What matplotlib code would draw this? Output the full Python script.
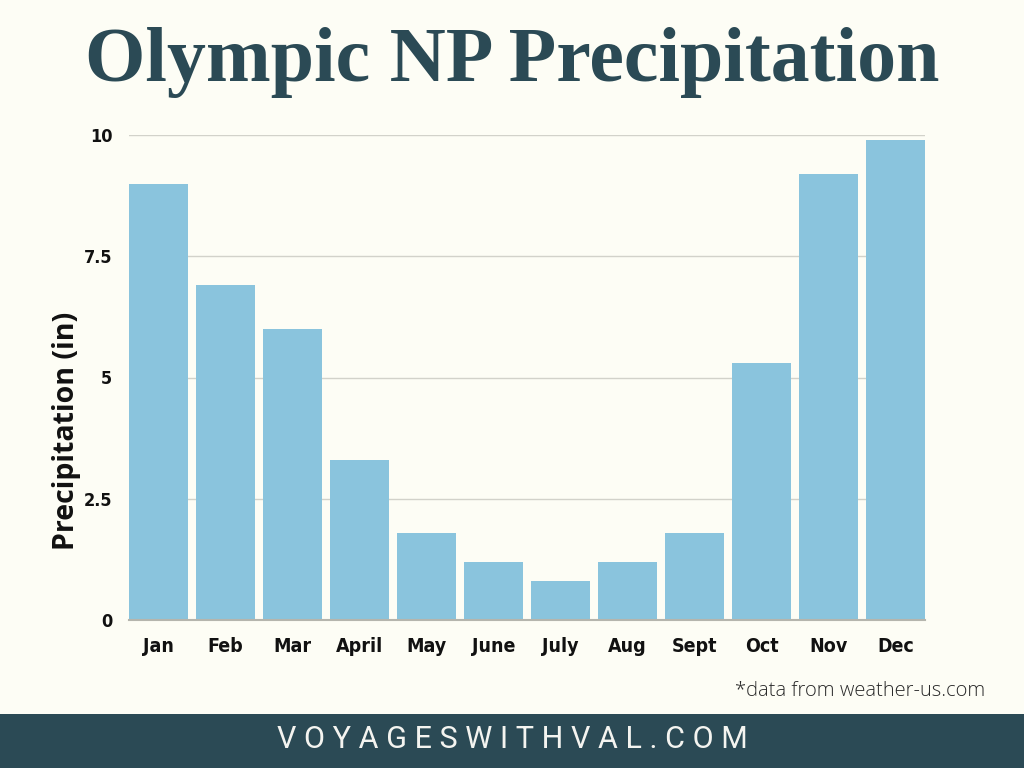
import matplotlib
matplotlib.use("Agg")
import matplotlib.pyplot as plt
from matplotlib.patches import Rectangle

months = ["Jan", "Feb", "Mar", "April", "May", "June", "July", "Aug", "Sept", "Oct", "Nov", "Dec"]
precip = [9.0, 6.9, 6.0, 3.3, 1.8, 1.2, 0.8, 1.2, 1.8, 5.3, 9.2, 9.9]
yticks = [0, 2.5, 5, 7.5, 10]
ytick_labels = ["0", "2.5", "5", "7.5", "10"]

BG = "#FDFDF5"
BAR = "#8AC4DD"
DARK = "#2B4A55"
W = 0.88

fig = plt.figure(figsize=(10.24, 7.68), dpi=100, facecolor=BG)
ax = fig.add_axes([129/1024, 1-620/768, 796/1024, 485/768], facecolor=BG)

x = list(range(len(months)))
ax.bar(x, precip, width=W, color=BAR, edgecolor="none", zorder=3)
ax.set_xlim(-W/2, len(months) - 1 + W/2)
ax.set_ylim(0, 10)
ax.set_yticks(yticks)
ax.set_yticklabels(ytick_labels)
ax.set_xticks(x)
ax.set_xticklabels(months)
ax.grid(axis="y", color="#D2D2CA", linewidth=1.0, zorder=0)
for s in ["top", "right", "left"]:
    ax.spines[s].set_visible(False)
ax.spines["bottom"].set_color("#B5B5AD")
ax.spines["bottom"].set_linewidth(1.5)
ax.spines["bottom"].set_zorder(4)
ax.tick_params(axis="both", length=0, colors="#111111")
ax.tick_params(axis="y", pad=12)
ax.tick_params(axis="x", pad=12)
for lab in ax.get_xticklabels():
    lab.set_fontfamily("DejaVu Sans")
    lab.set_fontstretch("condensed")
    lab.set_fontweight("bold")
    lab.set_fontsize(14)
for lab in ax.get_yticklabels():
    lab.set_fontfamily("DejaVu Sans")
    lab.set_fontstretch("condensed")
    lab.set_fontweight("bold")
    lab.set_fontsize(13)

ax.set_ylabel("Precipitation (in)", fontsize=20.5, fontweight="bold", family="Open Sans",
              color="#111111")
ax.yaxis.set_label_coords((81 - 129) / 796, (620 - 431) / 485)

fig.text(0.5, 1 - 62/768, "Olympic NP Precipitation", ha="center", va="center",
         fontsize=56, fontweight="bold", family="Liberation Serif", color=DARK)

fig.text(985/1024, 1 - 691/768, "*data from weather-us.com", ha="right", va="center",
         fontsize=14.5, fontweight="light", family="Open Sans", color="#2A2A2A")

fig.patches.append(Rectangle((0, 0), 1, 54/768, transform=fig.transFigure,
                             facecolor=DARK, edgecolor="none", zorder=0))
fig.text(0.5, 1 - 739/768, " ".join("VOYAGESWITHVAL.COM"), ha="center", va="center",
         fontsize=22, fontweight="normal", family="Roboto", color="#F4F4F0")

fig.savefig("out.png", dpi=100, facecolor=BG)
